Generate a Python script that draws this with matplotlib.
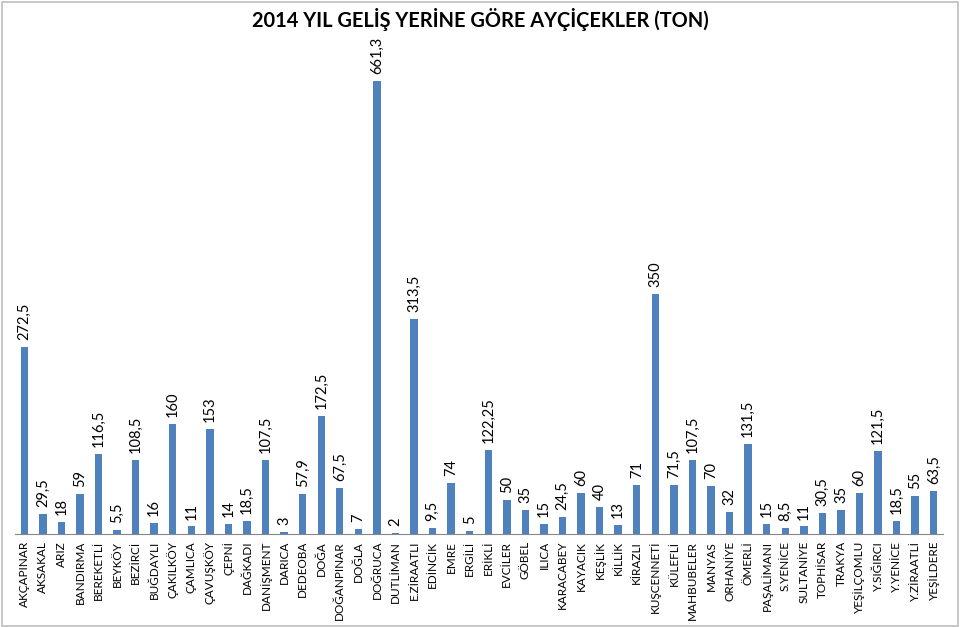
import matplotlib.pyplot as plt
from matplotlib.patches import Rectangle

plt.rcParams['font.family'] = ['Lato', 'DejaVu Sans']

villages = ['AKÇAPINAR', 'AKSAKAL', 'ARIZ', 'BANDIRMA', 'BEREKETLİ', 'BEYKÖY', 'BEZİRCİ',
            'BUĞDAYLI', 'ÇAKILKÖY', 'ÇAMLICA', 'ÇAVUŞKÖY', 'ÇEPNİ', 'DAĞKADI', 'DANİŞMENT',
            'DARICA', 'DEDEOBA', 'DOĞA', 'DOĞANPINAR', 'DOĞLA', 'DOĞRUCA', 'DUTLİMAN',
            'E.ZİRAATLI', 'EDİNCİK', 'EMRE', 'ERGİLİ', 'ERİKLİ', 'EVCİLER', 'GÖBEL', 'ILICA',
            'KARACABEY', 'KAYACIK', 'KEŞLİK', 'KİLLİK', 'KİRAZLI', 'KUŞCENNETİ', 'KÜLEFLİ',
            'MAHBUBELER', 'MANYAS', 'ORHANİYE', 'ÖMERLİ', 'PAŞALİMANI', 'S.YENİCE',
            'SULTANİYE', 'TOPHİSAR', 'TRAKYA', 'YEŞİLÇOMLU', 'Y.SIĞIRCI', 'Y.YENİCE',
            'Y.ZİRAATLİ', 'YEŞİLDERE']
tons = [272.5, 29.5, 18, 59, 116.5, 5.5, 108.5, 16, 160, 11, 153, 14, 18.5, 107.5, 3,
        57.9, 172.5, 67.5, 7, 661.3, 2, 313.5, 9.5, 74, 5, 122.25, 50, 35, 15, 24.5, 60,
        40, 13, 71, 350, 71.5, 107.5, 70, 32, 131.5, 15, 8.5, 11, 30.5, 35, 60, 121.5,
        18.5, 55, 63.5]

fig = plt.figure(figsize=(9.6, 6.27), dpi=100)
fig.patches.append(Rectangle((0.002, 0.002), 0.996, 0.995, transform=fig.transFigure,
                             fill=False, edgecolor='#bfbfbf', lw=1.2))
ax = fig.add_axes([0.0156, 0.1483, 0.9667, 0.765])

x = range(len(villages))
bars = ax.bar(x, tons, width=0.4, color='#4F81BD')
ax.set_xlim(-0.5, len(villages) - 0.5)
ax.set_ylim(0, 700)

for xi, v in zip(x, tons):
    lbl = ('%g' % v).replace('.', ',')
    ax.annotate(lbl, (xi, v), xytext=(0, 5), textcoords='offset points',
                rotation=90, ha='center', va='bottom', fontsize=10.5)

ax.set_xticks(list(x))
ax.set_xticklabels(villages, rotation=90, fontsize=8.5)
ax.tick_params(axis='x', length=0, pad=5)
ax.set_yticks([])
for s in ['top', 'right', 'left']:
    ax.spines[s].set_visible(False)
ax.spines['bottom'].set_color('#868686')

fig.suptitle('2014 YIL GELİŞ YERİNE GÖRE AYÇİÇEKLER (TON)', fontsize=14.4,
             fontweight='bold', y=0.988)

fig.savefig('out.png', dpi=100)
